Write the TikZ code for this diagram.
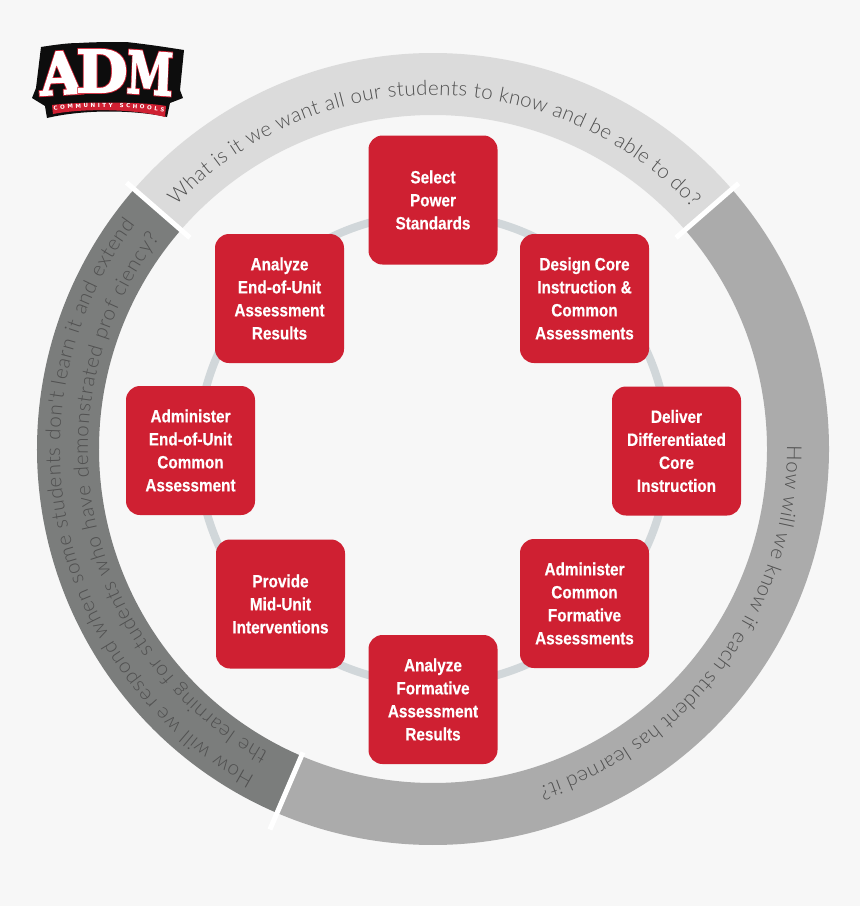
\documentclass[tikz,border=0pt]{standalone}
\usepackage{fontspec}
\usetikzlibrary{decorations.text}
\setmainfont{Liberation Sans}
\newfontfamily\boxfont[FakeStretch=0.86,FakeBold=0.4]{Liberation Sans Bold}
\newfontfamily\qfont{Lato Light}
\font\logowhite="DejaVu Serif/B:embolden=3" at 58pt
\font\logored="DejaVu Serif/B:embolden=6" at 58pt
\newfontfamily\logosmall{DejaVu Sans Bold}
\definecolor{bgc}{HTML}{F7F7F7}
\definecolor{redbox}{HTML}{CF2032}
\definecolor{ringin}{HTML}{D1D7DA}
\definecolor{ringa}{HTML}{DBDBDB}
\definecolor{ringb}{HTML}{ABABAB}
\definecolor{ringc}{HTML}{7B7D7C}
\definecolor{qtext}{HTML}{505050}
\definecolor{logored}{HTML}{CF2032}
\newcommand{\qa}{\fontsize{20.5}{20.5}\qfont\color{qtext}}
\tikzset{
  stepbox/.style={fill=redbox,rounded corners=14pt,minimum width=129pt,minimum height=129pt,
    inner sep=0pt,align=center,text=white,font=\boxfont\fontsize{17.8}{23}\selectfont},
  band/.style={line width=62pt},
  sep/.style={draw=white,line width=5pt},
  qtxt/.style={decorate,decoration={text along path,text align=fit to path,text={#1}}},
  logoletter/.style={inner sep=0pt}
}
\newcommand{\logoL}[6]{% name, x, y, xscale, rot, letter
  \node[logoletter,text=logored,xscale=#4,rotate=#5] (#1r) at (#2,#3) {\logored #6};
  \node[logoletter,text=white,xscale=#4,rotate=#5] (#1) at (#2,#3) {\logowhite #6};
}
\begin{document}
\begin{tikzpicture}[x=1pt,y=-1pt]
\fill[bgc] (0,0) rectangle (860,906);
\useasboundingbox (0,0) rectangle (860,906);
\begin{scope}[shift={(433,449)},y=1pt]
  \draw[ringin,line width=8pt] (0,0) circle[radius=235pt];
  \draw[band,ringa] (41:365pt) arc[start angle=41,end angle=139,radius=365pt];
  \draw[band,ringb] (41:365pt) arc[start angle=41,end angle=-113.2,radius=365pt];
  \draw[band,ringc] (139:365pt) arc[start angle=139,end angle=246.8,radius=365pt];
  \draw[sep] (41:322pt) -- (41:405pt);
  \draw[sep] (139:322pt) -- (139:406pt);
  \draw[sep] (246.8:330pt) -- (246.8:414pt);
  \path[qtxt={|\qa|What is it we want all our students to know and be able to do?}]
    (136.5:354pt) arc[start angle=136.5,end angle=43,radius=354pt];
  \path[qtxt={|\qa|How will we know if each student has learned it?}]
    (0.5:354pt) arc[start angle=0.5,end angle=-72.5,radius=354pt];
  \path[qtxt={|\qa|How will we respond when some students don't learn it and extend}]
    (241.5:373pt) arc[start angle=241.5,end angle=143,radius=373pt];
  \path[qtxt={|\qa|the learning for students who have demonstrated prof ciency?}]
    (241.5:345pt) arc[start angle=241.5,end angle=142.5,radius=345pt];
\end{scope}
\node[stepbox] (n1) at (433,200) {Select\\Power\\Standards};
\node[stepbox] (n2) at (584.5,298.5) {Design Core\\Instruction \&\\Common\\Assessments};
\node[stepbox] (n3) at (676.5,451) {Deliver\\Differentiated\\Core\\Instruction};
\node[stepbox] (n4) at (584.5,603.5) {Administer\\Common\\Formative\\Assessments};
\node[stepbox] (n5) at (433,699.5) {Analyze\\Formative\\Assessment\\Results};
\node[stepbox] (n6) at (280.5,604) {Provide\\Mid-Unit\\Interventions};
\node[stepbox] (n7) at (190.5,450.5) {Administer\\End-of-Unit\\Common\\Assessment};
\node[stepbox] (n8) at (279.5,298.5) {Analyze\\End-of-Unit\\Assessment\\Results};
% logo
\fill[black!95] (41,47) .. controls (60,44) and (70,43) .. (79,43)
  .. controls (95,42) and (110,42) .. (126,42)
  .. controls (145,44) and (165,47) .. (184,50)
  -- (180,90) -- (183,98) -- (170,103) -- (167,117)
  .. controls (135,110) and (85,109) .. (47,118)
  -- (45,106) -- (32,98) -- (36,88) -- cycle;
\fill[logored] (52,105) .. controls (75,102) and (140,101) .. (166,106)
  -- (165,117) .. controls (135,109) and (85,108) .. (53,114) -- cycle;
\logoL{la}{60.5}{73}{0.92}{3}{A}
\logoL{ld}{102}{71}{1.02}{0}{D}
\logoL{lm}{150}{73}{0.72}{-3}{M}
\path[decorate,decoration={text along path,text align=fit to path,
   text={|\logosmall\fontsize{5.6}{5.6}\selectfont\color{white}|COMMUNITY SCHOOLS}}]
   (54,110.5) .. controls (80,106) and (135,106) .. (164,112);
\end{tikzpicture}
\end{document}
